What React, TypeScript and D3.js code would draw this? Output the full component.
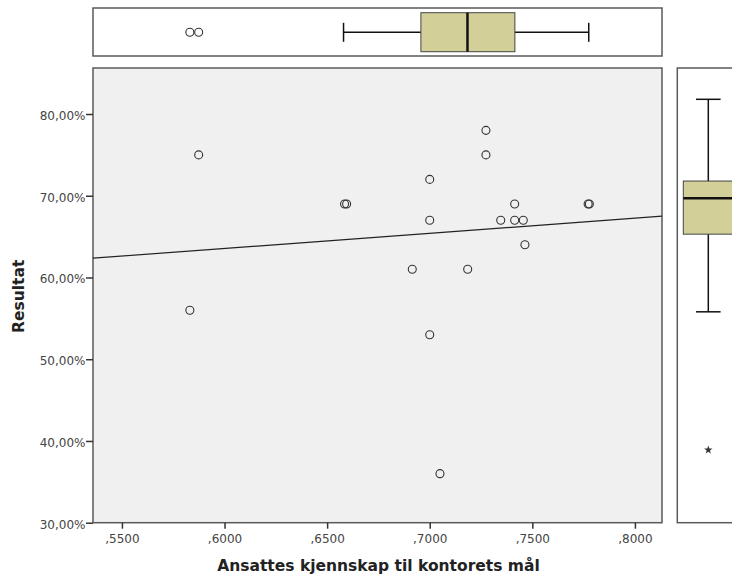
import React, { useEffect, useRef } from "react";
import * as d3 from "d3";

// scatter values
const knowledge = [0.5874, 0.5831, 0.6585, 0.6595, 0.6915, 0.7, 0.7, 0.7, 0.705, 0.7185, 0.7274, 0.7274, 0.7346, 0.7414, 0.7414, 0.7456, 0.7464, 0.7772, 0.7778];
const result = [0.75, 0.56, 0.69, 0.69, 0.61, 0.72, 0.67, 0.53, 0.36, 0.61, 0.78, 0.75, 0.67, 0.69, 0.67, 0.67, 0.64, 0.69, 0.69];

// linear fit, endpoints at the axis edges
const fitX = [0.5359, 0.8132];
const fitY = [0.6236, 0.675];

// boxplot for x (top) and y (right)
const xStats = [0.658, 0.6957, 0.7184, 0.7415, 0.7775]; // min q1 median q3 max
const xOutliers = [0.5831, 0.5874];
const yStats = [0.558, 0.653, 0.697, 0.718, 0.818];
const yExtremes = [0.389];

const xTicks = [0.55, 0.6, 0.65, 0.7, 0.75, 0.8];
const yTicks = [0.3, 0.4, 0.5, 0.6, 0.7, 0.8];

const xTitle = "Ansattes kjennskap til kontorets mål";
const yTitle = "Resultat";

export default function App() {
  const ref = useRef<SVGSVGElement>(null);

  useEffect(() => {
    const svg = d3.select(ref.current);
    svg.selectAll("*").remove();

    const left = 93, right = 662, top = 68, bottom = 522.7;
    const x = d3.scaleLinear().domain([0.5359, 0.8132]).range([left, right]);
    const y = d3.scaleLinear().domain([0.3, 0.8563]).range([bottom, top]);
    const font = "DejaVu Sans, Verdana, sans-serif";
    const frame = "#5a5a5a";
    const boxFill = "#d3cf98";

    // main plot
    svg.append("rect")
      .attr("x", left).attr("y", top)
      .attr("width", right - left).attr("height", bottom - top)
      .attr("fill", "#f0f0f0").attr("stroke", frame).attr("stroke-width", 1.5);

    const xAxis = d3.axisBottom(x).tickValues(xTicks).tickSize(6).tickSizeOuter(0)
      .tickFormat(d => d3.format(".4f")(+d).replace("0.", ","));
    const gx = svg.append("g").attr("transform", `translate(0,${bottom})`).call(xAxis);
    gx.select(".domain").remove();
    gx.selectAll("line").attr("stroke", "#333").attr("stroke-width", 1.5);
    gx.selectAll("text").attr("font-family", font).attr("font-size", 12).attr("fill", "#444").attr("dy", "0.95em");

    const yAxis = d3.axisLeft(y).tickValues(yTicks).tickSize(7).tickSizeOuter(0)
      .tickFormat(d => d3.format(".2f")(+d * 100).replace(".", ",") + "%");
    const gy = svg.append("g").attr("transform", `translate(${left},0)`).call(yAxis);
    gy.select(".domain").remove();
    gy.selectAll("line").attr("stroke", "#333").attr("stroke-width", 1.5);
    gy.selectAll("text").attr("font-family", font).attr("font-size", 12).attr("fill", "#444").attr("x", -7.5).attr("dy", "0.45em");

    svg.append("text")
      .attr("x", (left + right) / 2 + 1).attr("y", 571)
      .attr("text-anchor", "middle").attr("font-family", font)
      .attr("font-weight", "bold").attr("font-size", 15.5).attr("fill", "#222")
      .text(xTitle);

    svg.append("text")
      .attr("transform", `translate(24,${(top + bottom) / 2 + 1}) rotate(-90)`)
      .attr("text-anchor", "middle").attr("font-family", font)
      .attr("font-weight", "bold").attr("font-size", 15.5).attr("fill", "#222")
      .text(yTitle);

    const line = d3.line<number>().x((d, i) => x(fitX[i])).y(d => y(d));
    svg.append("path").datum(fitY).attr("d", line)
      .attr("fill", "none").attr("stroke", "#222").attr("stroke-width", 1.2);

    svg.append("g").selectAll("circle")
      .data(knowledge)
      .join("circle")
      .attr("cx", d => x(d)).attr("cy", (d, i) => y(result[i]))
      .attr("r", 4).attr("fill", "none").attr("stroke", "#333").attr("stroke-width", 1.1);

    // top boxplot
    const tTop = 8, tBottom = 56, tMid = 32.3;
    svg.append("rect")
      .attr("x", left).attr("y", tTop).attr("width", right - left).attr("height", tBottom - tTop)
      .attr("fill", "#fff").attr("stroke", frame).attr("stroke-width", 1.5);
    const top1 = svg.append("g");
    top1.append("line").attr("x1", x(xStats[0])).attr("x2", x(xStats[4])).attr("y1", tMid).attr("y2", tMid)
      .attr("stroke", "#111").attr("stroke-width", 1.5);
    [xStats[0], xStats[4]].forEach(v => {
      top1.append("line").attr("x1", x(v)).attr("x2", x(v)).attr("y1", tMid - 9.5).attr("y2", tMid + 9.5)
        .attr("stroke", "#111").attr("stroke-width", 1.5);
    });
    top1.append("rect").attr("x", x(xStats[1])).attr("y", 12.7)
      .attr("width", x(xStats[3]) - x(xStats[1])).attr("height", 39)
      .attr("fill", boxFill).attr("stroke", "#444").attr("stroke-width", 1);
    top1.append("line").attr("x1", x(xStats[2])).attr("x2", x(xStats[2])).attr("y1", 12.7).attr("y2", 51.7)
      .attr("stroke", "#111").attr("stroke-width", 2.5);
    top1.selectAll("circle").data(xOutliers).join("circle")
      .attr("cx", d => x(d)).attr("cy", tMid).attr("r", 4)
      .attr("fill", "none").attr("stroke", "#333").attr("stroke-width", 1.1);

    // right boxplot
    const rLeft = 677.3, rMid = 708.3;
    svg.append("rect")
      .attr("x", rLeft).attr("y", top).attr("width", 80).attr("height", bottom - top)
      .attr("fill", "#fff").attr("stroke", frame).attr("stroke-width", 1.5);
    const right1 = svg.append("g");
    right1.append("line").attr("x1", rMid).attr("x2", rMid).attr("y1", y(yStats[0])).attr("y2", y(yStats[4]))
      .attr("stroke", "#111").attr("stroke-width", 1.5);
    [yStats[0], yStats[4]].forEach(v => {
      right1.append("line").attr("x1", rMid - 12.3).attr("x2", rMid + 12.3).attr("y1", y(v)).attr("y2", y(v))
        .attr("stroke", "#111").attr("stroke-width", 1.5);
    });
    right1.append("rect").attr("x", 683.3).attr("y", y(yStats[3]))
      .attr("width", 50).attr("height", y(yStats[1]) - y(yStats[3]))
      .attr("fill", boxFill).attr("stroke", "#444").attr("stroke-width", 1);
    right1.append("line").attr("x1", 683.3).attr("x2", 733.3).attr("y1", y(yStats[2])).attr("y2", y(yStats[2]))
      .attr("stroke", "#111").attr("stroke-width", 2.5);
    right1.selectAll("path").data(yExtremes).join("path")
      .attr("transform", d => `translate(${rMid},${y(d)})`)
      .attr("d", d3.symbol(d3.symbolStar, 22)())
      .attr("fill", "#333");
  }, []);

  return (
    <div>
      <svg ref={ref} width={732} height={579} style={{ position: "absolute", left: 0, top: 0, background: "#fff" }} />
    </div>
  );
}
